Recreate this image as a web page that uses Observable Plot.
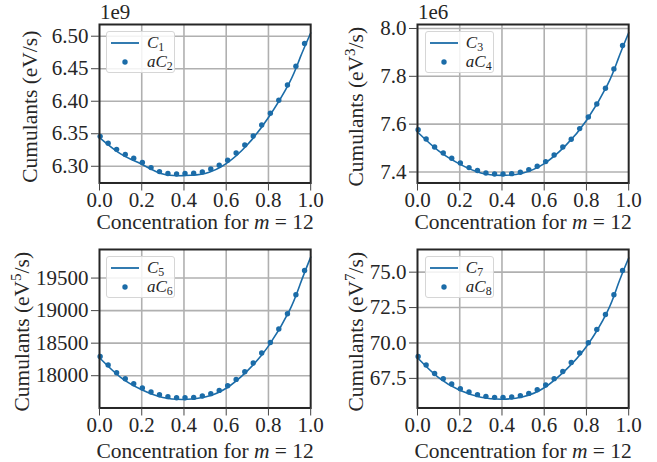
<!DOCTYPE html>
<html><head><meta charset="utf-8">
<script src="https://cdn.jsdelivr.net/npm/d3@7"></script>
<script src="https://cdn.jsdelivr.net/npm/@observablehq/plot@0.6"></script>
<style>
html,body{margin:0;padding:0;background:#fff;}
#fig{position:relative;width:657px;height:462px;overflow:hidden;font-family:"Liberation Serif",serif;}
.panel{position:absolute;}
.legend{position:absolute;width:69px;height:42px;border:1px solid #d6d6d6;border-radius:3px;background:rgba(255,255,255,0.85);font-family:"Liberation Serif",serif;font-size:17px;color:#262626;box-sizing:border-box;}
.legend svg{position:absolute;left:0;top:0;}
.legend .lab{position:absolute;left:40px;height:17px;line-height:17px;white-space:nowrap;}
.legend .cal{font-style:italic;}
.legend sub{font-size:0.7em;vertical-align:-0.25em;line-height:0;font-style:normal;}
</style></head><body><div id="fig"></div>
<script>
// ---------- data ----------
const lineX = [0, 0.1, 0.2, 0.3, 0.4, 0.5, 0.6, 0.7, 0.8, 0.9, 0.95, 1.0];
const dotX = [0.003, 0.041, 0.081, 0.122, 0.162, 0.203, 0.244, 0.284, 0.324, 0.365, 0.405, 0.446, 0.487,
              0.527, 0.567, 0.607, 0.647, 0.688, 0.728, 0.768, 0.809, 0.849, 0.890, 0.930, 0.971];

const c1Line = [6.344e9, 6.319e9, 6.303e9, 6.288e9, 6.2857e9, 6.289e9, 6.304e9, 6.333e9, 6.375e9, 6.429e9, 6.467e9, 6.505e9];
const ac2Dots = [6.346e9, 6.3354e9, 6.326e9, 6.318e9, 6.3123e9, 6.3057e9, 6.298e9, 6.2918e9, 6.2888e9, 6.2882e9,
                 6.2888e9, 6.2892e9, 6.2912e9, 6.2958e9, 6.3015e9, 6.3092e9, 6.3205e9, 6.3328e9, 6.3466e9, 6.3635e9,
                 6.3815e9, 6.4015e9, 6.425e9, 6.4538e9, 6.4888e9];

const c3Line = [7.567e6, 7.488e6, 7.433e6, 7.396e6, 7.386e6, 7.396e6, 7.435e6, 7.509e6, 7.615e6, 7.765e6, 7.872e6, 7.982e6];
const ac4Dots = [7.577e6, 7.538e6, 7.5046e6, 7.4795e6, 7.4573e6, 7.4377e6, 7.4184e6, 7.406e6, 7.396e6, 7.3916e6,
                 7.3916e6, 7.393e6, 7.3987e6, 7.41e6, 7.4238e6, 7.4435e6, 7.471e6, 7.5046e6, 7.537e6, 7.5815e6,
                 7.630e6, 7.6845e6, 7.750e6, 7.831e6, 7.929e6];

const c5Line = [18276, 17975, 17785, 17665, 17635, 17672, 17808, 18075, 18455, 19005, 19405, 19822];
const ac6Dots = [18296, 18164, 18046, 17954, 17877, 17811, 17750, 17708, 17678, 17662, 17662, 17667, 17688,
                 17724, 17774, 17846, 17943, 18061, 18195, 18348, 18511, 18717, 18952, 19243, 19617];

const c7Line = [68.96, 67.55, 66.66, 66.17, 66.03, 66.20, 66.84, 68.07, 69.75, 72.25, 74.15, 76.0];
const ac8Dots = [69.05, 68.44, 67.85, 67.48, 67.10, 66.77, 66.54, 66.35, 66.23, 66.16, 66.16, 66.19, 66.28,
                 66.44, 66.70, 67.03, 67.48, 67.99, 68.63, 69.29, 70.02, 70.96, 72.01, 73.40, 75.12];

const xTicks = [0, 0.2, 0.4, 0.6, 0.8, 1.0];
const xTickLabels = ["0.0", "0.2", "0.4", "0.6", "0.8", "1.0"];
const yTicks1 = [6.30e9, 6.35e9, 6.40e9, 6.45e9, 6.50e9];
const yTickLabels1 = ["6.30", "6.35", "6.40", "6.45", "6.50"];
const yTicks2 = [7.4e6, 7.6e6, 7.8e6, 8.0e6];
const yTickLabels2 = ["7.4", "7.6", "7.8", "8.0"];
const yTicks3 = [18000, 18500, 19000, 19500];
const yTickLabels3 = ["18000", "18500", "19000", "19500"];
const yTicks4 = [67.5, 70.0, 72.5, 75.0];
const yTickLabels4 = ["67.5", "70.0", "72.5", "75.0"];

const xLabel = "Concentration for m = 12";
const yLabels = ["Cumulants (eV/s)", "Cumulants (eV³/s)", "Cumulants (eV⁵/s)", "Cumulants (eV⁷/s)"];
const offsetTexts = ["1e9", "1e6", null, null];
const lineNames = ["1", "3", "5", "7"];
const dotNames = ["2", "4", "6", "8"];

// ---------- layout ----------
const COLOR = "#1b6ca8";
const INK = "#262626";
const ML = 98, MT = 30, MR = 15, MB = 60, FW = 211.2, FH = 158.5;

const panels = [
  {fl: 98.5, ft: 24.3, domain: [6.2743e9, 6.518e9], yT: yTicks1, yTL: yTickLabels1, line: c1Line, dots: ac2Dots, ylDx: -69, xlDy: 39},
  {fl: 417.3, ft: 24.3, domain: [7.354e6, 8.0167e6], yT: yTicks2, yTL: yTickLabels2, line: c3Line, dots: ac4Dots, ylDx: -61, xlDy: 39},
  {fl: 98.5, ft: 248.7, domain: [17504, 19939], yT: yTicks3, yTL: yTickLabels3, line: c5Line, dots: ac6Dots, ylDx: -77.5, xlDy: 43.1},
  {fl: 417.3, ft: 248.7, domain: [65.41, 76.60], yT: yTicks4, yTL: yTickLabels4, line: c7Line, dots: ac8Dots, ylDx: -61, xlDy: 43.1}
];

const fig = document.getElementById("fig");
const sup = {"³": "3", "⁵": "5", "⁷": "7"};

panels.forEach((p, k) => {
  const lineData = lineX.map((x, i) => ({x, y: p.line[i]}));
  const dotData = dotX.map((x, i) => ({x, y: p.dots[i]}));
  const marks = [
    Plot.gridX(xTicks.slice(1, -1), {stroke: "#b0b0b0", strokeOpacity: 1, strokeWidth: 1.6}),
    Plot.gridY(p.yT, {stroke: "#b0b0b0", strokeOpacity: 1, strokeWidth: 1.6}),
    Plot.line(lineData, {x: "x", y: "y", curve: "natural", stroke: COLOR, strokeWidth: 1.6}),
    Plot.dot(dotData, {x: "x", y: "y", r: 2.7, fill: COLOR, stroke: "none"}),
    Plot.frame({stroke: INK, strokeWidth: 2}),
    Plot.axisX({ticks: xTicks, tickSize: 8, tickPadding: 1.5, tickFormat: d => xTickLabels[xTicks.indexOf(d)], stroke: "#444", fill: INK, label: null}),
    Plot.axisY({ticks: p.yT, tickSize: 8, tickPadding: 3, tickFormat: d => p.yTL[p.yT.indexOf(d)], stroke: "#444", fill: INK, label: null}),
    Plot.text([yLabels[k]], {text: d => d, frameAnchor: "left", lineAnchor: "middle", rotate: -90, dx: p.ylDx, dy: 3, fontSize: 21.5, fill: INK, textAnchor: "middle"}),
    Plot.text([xLabel], {text: d => d, frameAnchor: "bottom", lineAnchor: "middle", dy: p.xlDy, fontSize: 21.5, fill: INK, textAnchor: "middle"})
  ];
  if (offsetTexts[k]) marks.push(Plot.text([offsetTexts[k]], {text: d => d, frameAnchor: "top-left", lineAnchor: "middle", textAnchor: "start", dx: 0.5, dy: -12, fontSize: 21, fill: INK}));

  const svg = Plot.plot({
    width: ML + FW + MR, height: MT + FH + MB,
    marginLeft: ML, marginRight: MR, marginTop: MT, marginBottom: MB,
    style: {fontFamily: '"Liberation Serif", serif', fontSize: "21px", background: "transparent", color: INK, overflow: "visible"},
    x: {domain: [0, 1], label: null},
    y: {domain: p.domain, label: null},
    marks
  });
  svg.querySelectorAll("text").forEach(t => {
    if (t.textContent === xLabel) {
      t.innerHTML = 'Concentration for <tspan font-style="italic">m</tspan> = 12';
    } else if (yLabels.includes(t.textContent)) {
      const s = t.textContent;
      const ch = Object.keys(sup).find(c => s.includes(c));
      if (ch) {
        const [a, b] = s.split(ch);
        t.innerHTML = a + '<tspan baseline-shift="super" font-size="70%">' + sup[ch] + '</tspan>' + b;
      }
    }
  });
  const div = document.createElement("div");
  div.className = "panel";
  div.style.left = (p.fl - ML) + "px";
  div.style.top = (p.ft - MT) + "px";
  div.style.width = (ML + FW + MR) + "px";
  div.appendChild(svg);
  fig.appendChild(div);

  const lg = document.createElement("div");
  lg.className = "legend";
  lg.style.left = (p.fl + 7.5) + "px";
  lg.style.top = (p.ft + 7) + "px";
  lg.innerHTML =
    '<svg width="69" height="42"><line x1="4" x2="32" y1="11" y2="11" stroke="' + COLOR + '" stroke-width="1.8"/>' +
    '<circle cx="18" cy="30" r="2.7" fill="' + COLOR + '"/></svg>' +
    '<div class="lab" style="top:2px"><span class="cal">C</span><sub>' + lineNames[k] + '</sub></div>' +
    '<div class="lab" style="top:21px"><i>a</i><span class="cal">C</span><sub>' + dotNames[k] + '</sub></div>';
  fig.appendChild(lg);
});
</script></body></html>
